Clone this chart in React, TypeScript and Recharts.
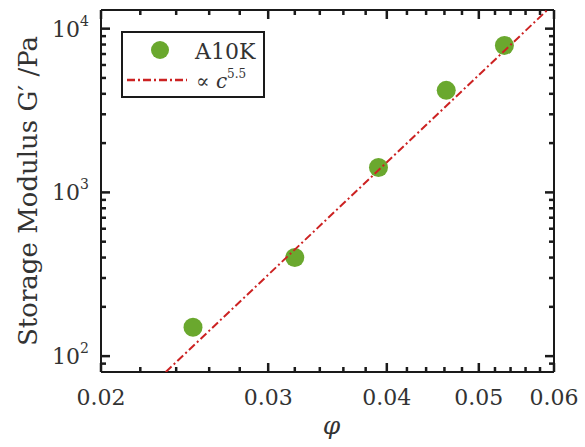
import { ScatterChart, Scatter, XAxis, YAxis, Legend } from 'recharts';

const phi = [0.025, 0.032, 0.0392, 0.0462, 0.0532];
const modulus = [150, 400, 1420, 4200, 7900];

// power-law guide, c^5.5, read at its two ends
const fitPhi = [0.0234, 0.059];
const fitModulus = [80, 12950];

const xMajor = [0.02, 0.03, 0.04, 0.05, 0.06];
const xTicks = [
  0.02, 0.022, 0.024, 0.026, 0.028, 0.03, 0.032, 0.034, 0.036, 0.038, 0.04, 0.042, 0.044,
  0.046, 0.048, 0.05, 0.052, 0.054, 0.056, 0.058, 0.06,
];
const yMajor = [100, 1000, 10000];
const yExponent = [2, 3, 4];
const yTicks = [
  90, 100, 200, 300, 400, 500, 600, 700, 800, 900, 1000, 2000, 3000, 4000, 5000, 6000, 7000,
  8000, 9000, 10000,
];

const FONT = 'DejaVu Serif';
const INK = '#1a1a1a';
const TEXT = '#333';
const GREEN = '#6aa82e';
const RED = '#cc2222';
const DASH = '8 3 2 3';
const MINOR = 5;
const MAJOR = 9;
const TW = 2.5;

const points = phi.map((x, i) => ({ x, y: modulus[i] }));
const fitLine = fitPhi.map((x, i) => ({ x, y: fitModulus[i] }));

// tickSize is 0, so (x, y) is the spot on the axis line; ticks are drawn inward
function BottomTick({ x, y, payload }: any) {
  const major = xMajor.includes(payload.value);
  const len = major ? MAJOR : MINOR;
  return (
    <g>
      <rect x={x - TW / 2} y={y - len} width={TW} height={len} fill={INK} />
      {major && (
        <text x={x} y={y + 33} textAnchor="middle" fontFamily={FONT} fontSize={22} fill={TEXT}>
          {payload.value.toFixed(2)}
        </text>
      )}
    </g>
  );
}

function TopTick({ x, y, payload }: any) {
  const len = xMajor.includes(payload.value) ? MAJOR : MINOR;
  return <rect x={x - TW / 2} y={y} width={TW} height={len} fill={INK} />;
}

function LeftTick({ x, y, payload }: any) {
  const idx = yMajor.indexOf(payload.value);
  const len = idx >= 0 ? MAJOR : MINOR;
  return (
    <g>
      <rect x={x} y={y - TW / 2} width={len} height={TW} fill={INK} />
      {idx >= 0 && (
        <text x={x - 12} y={y + 8} textAnchor="end" fontFamily={FONT} fontSize={22} fill={TEXT}>
          10
          <tspan dy={-11} fontSize={14}>
            {yExponent[idx]}
          </tspan>
        </text>
      )}
    </g>
  );
}

function RightTick({ x, y, payload }: any) {
  const len = yMajor.includes(payload.value) ? MAJOR : MINOR;
  return <rect x={x - len} y={y - TW / 2} width={len} height={TW} fill={INK} />;
}

function LegendBox() {
  return (
    <div
      style={{
        width: 144,
        height: 67,
        border: `2px solid ${INK}`,
        boxSizing: 'border-box',
        background: '#fff',
      }}
    >
      <svg width={140} height={63} style={{ display: 'block' }}>
        <circle cx={37} cy={17} r={9} fill={GREEN} />
        <text x={72} y={26} fontFamily={FONT} fontSize={22} fill={TEXT}>
          A10K
        </text>
        <line x1={4} y1={47} x2={64} y2={47} stroke={RED} strokeWidth={2.5} strokeDasharray={DASH} />
        <text x={73} y={55} fontFamily={FONT} fontSize={20} fill={TEXT}>
          ∝ <tspan fontStyle="italic">c</tspan>
          <tspan dy={-10} fontSize={12}>
            5.5
          </tspan>
        </text>
      </svg>
    </div>
  );
}

const axisLineStyle = { stroke: INK, strokeWidth: 2 };

export default function App() {
  return (
    <div style={{ position: 'absolute', left: 0, top: 0, background: '#fff' }}>
      <ScatterChart width={585} height={447} margin={{ top: 0, right: 0, bottom: 0, left: 0 }}>
        <XAxis
          xAxisId="b"
          dataKey="x"
          type="number"
          scale="log"
          domain={[0.02, 0.06]}
          allowDataOverflow
          ticks={xTicks}
          interval={0}
          tickSize={0}
          tickMargin={0}
          tickLine={false}
          tick={BottomTick}
          height={75}
          axisLine={axisLineStyle}
          label={({ viewBox }: any) => (
            <text
              x={viewBox.x + viewBox.width / 2 + 4}
              y={434}
              textAnchor="middle"
              fontFamily={FONT}
              fontStyle="italic"
              fontSize={25}
              fill={TEXT}
            >
              φ
            </text>
          )}
        />
        <XAxis
          xAxisId="t"
          orientation="top"
          dataKey="x"
          type="number"
          scale="log"
          domain={[0.02, 0.06]}
          allowDataOverflow
          ticks={xTicks}
          interval={0}
          tickSize={0}
          tickMargin={0}
          tickLine={false}
          tick={TopTick}
          height={10}
          axisLine={axisLineStyle}
        />
        <YAxis
          yAxisId="l"
          dataKey="y"
          type="number"
          scale="log"
          domain={[80, 13000]}
          allowDataOverflow
          ticks={yTicks}
          interval={0}
          tickSize={0}
          tickMargin={0}
          tickLine={false}
          tick={LeftTick}
          width={101}
          axisLine={axisLineStyle}
          label={({ viewBox }: any) => (
            <text
              transform={`translate(${viewBox.x + 37}, ${viewBox.y + viewBox.height / 2}) rotate(-90)`}
              textAnchor="middle"
              fontFamily={FONT}
              fontSize={26}
              fill={TEXT}
            >
              Storage Modulus G′ /Pa
            </text>
          )}
        />
        <YAxis
          yAxisId="r"
          orientation="right"
          dataKey="y"
          type="number"
          scale="log"
          domain={[80, 13000]}
          allowDataOverflow
          ticks={yTicks}
          interval={0}
          tickSize={0}
          tickMargin={0}
          tickLine={false}
          tick={RightTick}
          width={31}
          axisLine={axisLineStyle}
        />
        <Legend
          layout="vertical"
          align="center"
          verticalAlign="middle"
          content={() => <LegendBox />}
          wrapperStyle={{ left: 121, top: 31, width: 144, height: 67 }}
        />
        <Scatter
          name="A10K"
          data={points}
          xAxisId="b"
          yAxisId="l"
          isAnimationActive={false}
          shape={(p: any) => <circle cx={p.cx} cy={p.cy} r={9.5} fill={GREEN} />}
        />
        <Scatter
          name="fit"
          data={fitLine}
          xAxisId="b"
          yAxisId="l"
          isAnimationActive={false}
          line={{ stroke: RED, strokeWidth: 2, strokeDasharray: DASH }}
          shape={() => <g />}
        />
      </ScatterChart>
    </div>
  );
}
